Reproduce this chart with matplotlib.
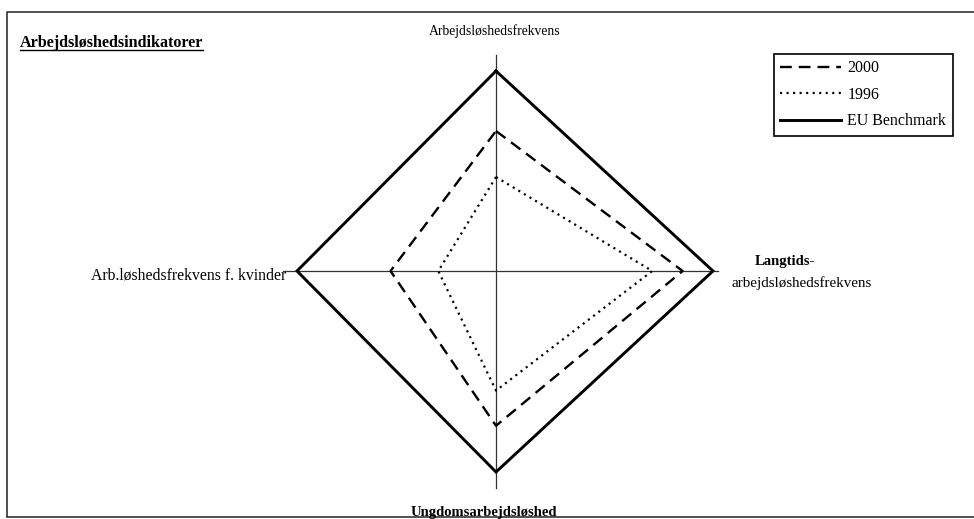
import matplotlib
matplotlib.use("Agg")
import matplotlib.pyplot as plt

plt.rcParams['font.family'] = ['Liberation Serif', 'DejaVu Serif']
plt.rcParams['lines.scale_dashes'] = False

# ---- data ----
categories = ["Arbejdsløshedsfrekvens",
              "Langtids-\narbejdsløshedsfrekvens",
              "Ungdomsarbejdsløshed",
              "Arb.løshedsfrekvens f. kvinder"]
values_2000 = [0.70, 0.86, 0.77, 0.53]
values_1996 = [0.47, 0.72, 0.595, 0.29]
values_eu = [1.0, 1.0, 1.0, 1.0]
series_labels = ["2000", "1996", "EU Benchmark"]
title = "Arbejdsløshedsindikatorer"

# ---- layout (pixel-like axes) ----
W, H = 974, 519
fig = plt.figure(figsize=(W / 100, H / 100), dpi=100)
ax = fig.add_axes([0, 0, 1, 1])
ax.set_xlim(0, W)
ax.set_ylim(H, 0)
ax.axis('off')

cx, cy = 496, 271
directions = [(0, -1), (1, 0), (0, 1), (-1, 0)]   # top, right, bottom, left
spoke_len = [200, 217, 201, 199]                  # length of value 1.0 on each spoke
spoke_ext = [16, 5, 16, 14]


def pts(vals):
    xs = [cx + v * L * d[0] for v, L, d in zip(vals, spoke_len, directions)]
    ys = [cy + v * L * d[1] for v, L, d in zip(vals, spoke_len, directions)]
    return xs + xs[:1], ys + ys[:1]


# frame
ax.plot([7, 7, W + 10], [517, 12, 12], color='#222222', lw=1.1, solid_capstyle='butt')
ax.plot([7, W + 10], [517, 517], color='#222222', lw=1.1)

# spokes
for L, e, d in zip(spoke_len, spoke_ext, directions):
    ax.plot([cx, cx + (L + e) * d[0]], [cy, cy + (L + e) * d[1]],
            color='#333333', lw=0.9, zorder=1)

x, y = pts(values_2000)
h2000, = ax.plot(x, y, color='black', lw=1.7, linestyle=(0, (8.5, 5.0)),
                 label=series_labels[0], zorder=3)
x, y = pts(values_1996)
h1996, = ax.plot(x, y, color='black', lw=1.6, linestyle=(0, (1.5, 3.2)),
                 label=series_labels[1], zorder=3)
x, y = pts(values_eu)
heu, = ax.plot(x, y, color='black', lw=2.1, linestyle='-', solid_joinstyle='miter',
               label=series_labels[2], zorder=3)

# axis labels
ax.text(495, 35, categories[0], ha='center', va='baseline', fontsize=9.8)
l1, l2 = categories[1].split("\n")
ax.text(785, 265, l1, ha='center', va='baseline', fontsize=10.5, fontweight='bold')
ax.text(802, 287, l2, ha='center', va='baseline', fontsize=10.8)
ax.text(484, 516, categories[2], ha='center', va='baseline', fontsize=10.5, fontweight='bold')
ax.text(286, 279, categories[3], ha='right', va='baseline', fontsize=11.3)

# title with underline
t = ax.text(20, 47, title, ha='left', va='baseline', fontsize=11.6, fontweight='bold')
fig.canvas.draw()
bb = t.get_window_extent()
ax.plot([bb.x0, bb.x1], [49.5, 49.5], color='black', lw=1.0)

# legend
leg = ax.legend(handles=[h2000, h1996, heu], loc='upper left',
                bbox_to_anchor=(774 / W, 1 - 54 / H), bbox_transform=ax.transAxes,
                frameon=True, fancybox=False, edgecolor='black', framealpha=1,
                fontsize=11.5, handlelength=3.8, handletextpad=0.4,
                labelspacing=0.66, borderpad=0.4, borderaxespad=0)
leg.get_frame().set_linewidth(1.2)

fig.savefig("out.png", dpi=100)
